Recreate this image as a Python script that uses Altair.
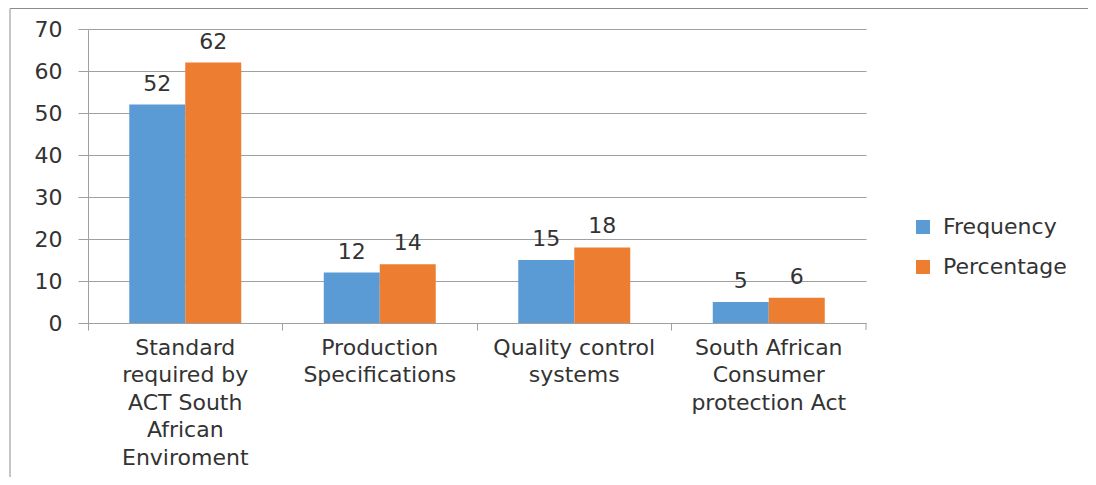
import altair as alt
import pandas as pd

categories = [
    "Standard required by ACT South African Enviroment",
    "Production Specifications",
    "Quality control systems",
    "South African Consumer protection Act",
]
label_lines = [
    ["Standard", "required by", "ACT South", "African", "Enviroment"],
    ["Production", "Specifications"],
    ["Quality control", "systems"],
    ["South African", "Consumer", "protection Act"],
]
series = ["Frequency", "Percentage"]
frequency = [52, 12, 15, 5]
percentage = [62, 14, 18, 6]
colors = ["#5B9BD5", "#ED7D31"]
y_ticks = [0, 10, 20, 30, 40, 50, 60, 70]

rows = []
for c, f, p in zip(categories, frequency, percentage):
    rows.append({"category": c, "series": "Frequency", "value": f})
    rows.append({"category": c, "series": "Percentage", "value": p})
df = pd.DataFrame(rows)

# label expression mapping category -> list of lines
expr = "''"
for c, lines in reversed(list(zip(categories, label_lines))):
    arr = "[" + ",".join("'" + l + "'" for l in lines) + "]"
    expr = f"datum.label == '{c}' ? {arr} : ({expr})"

W, H = 778, 294
GRID = "#a0a0a0"
TXT = "#333333"
FONT = "DejaVu Sans"
FS = 22

x_enc = alt.X(
    "category:N",
    sort=categories,
    scale=alt.Scale(paddingInner=0, paddingOuter=0),
    axis=alt.Axis(
        title=None,
        labelAngle=0,
        labelExpr=expr,
        bandPosition=0,
        labelFontSize=FS,
        labelFont=FONT,
        labelColor=TXT,
        labelLineHeight=27.5,
        labelBaseline="top",
        labelPadding=7,
        tickSize=7,
        tickColor=GRID,
        domainColor=GRID,
        grid=False,
    ),
)
xoff = alt.XOffset(
    "series:N", sort=series, scale=alt.Scale(paddingInner=0, paddingOuter=0.737)
)
y_enc = alt.Y(
    "value:Q",
    scale=alt.Scale(domain=[0, 70]),
    axis=alt.Axis(
        title=None,
        values=y_ticks,
        labelFontSize=FS,
        labelFont=FONT,
        labelColor=TXT,
        labelPadding=16,
        tickSize=10,
        tickColor=GRID,
        domainColor=GRID,
        gridColor=GRID,
        grid=True,
    ),
)

base = alt.Chart(df).encode(x=x_enc, xOffset=xoff, y=y_enc)

bars = base.mark_bar().encode(
    color=alt.Color(
        "series:N",
        sort=series,
        scale=alt.Scale(domain=series, range=colors),
        legend=alt.Legend(
            title=None,
            orient="none",
            legendX=824,
            legendY=187,
            symbolType="square",
            symbolSize=196,
            symbolStrokeWidth=0,
            labelFontSize=FS,
            labelFont=FONT,
            labelColor=TXT,
            labelOffset=9,
            rowPadding=18,
            padding=0,
        ),
    )
)

labels = base.mark_text(
    dy=-21, fontSize=FS, font=FONT, color=TXT, baseline="middle"
).encode(text="value:Q")

one = pd.DataFrame({"a": [0]})
end_tick = alt.Chart(one).mark_rule(color=GRID).encode(
    x=alt.value(W), y=alt.value(H), y2=alt.value(H + 7)
)
left_border = alt.Chart(one).mark_rule(color="#8c8c8c").encode(
    x=alt.value(-78), y=alt.value(-20.5), y2=alt.value(460)
)
top_border = alt.Chart(one).mark_rule(color="#8c8c8c").encode(
    x=alt.value(-78), x2=alt.value(1004), y=alt.value(-20.5)
)

chart = (
    alt.layer(bars, labels, end_tick, left_border, top_border)
    .properties(
        width=W,
        height=H,
        autosize=alt.AutoSizeParams(type="none"),
        padding={"left": 80, "top": 21, "right": 222, "bottom": 154},
    )
    .configure_view(stroke=None)
)

chart.save("out.html", embed_options={"renderer": "svg", "actions": False})
